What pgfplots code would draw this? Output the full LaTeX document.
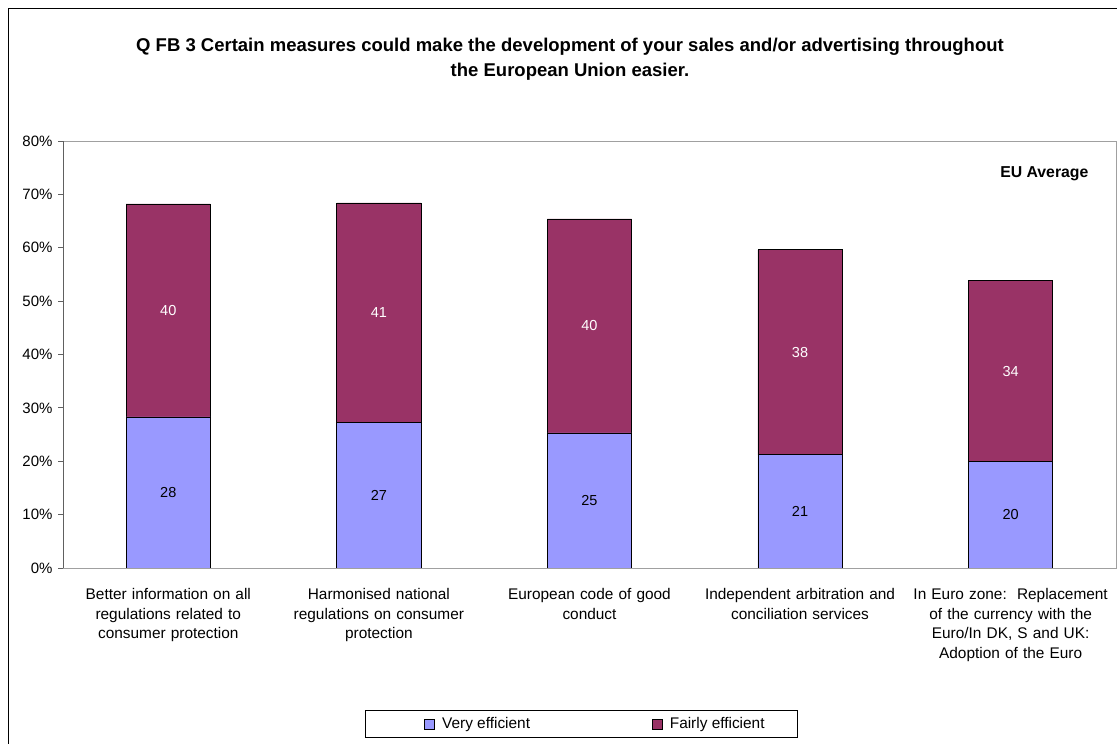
\documentclass[border=0pt]{standalone}
\usepackage{pgfplots}
\pgfplotsset{compat=1.18}
\usepackage{fontspec}
\setmainfont{Liberation Sans}
\definecolor{veryeff}{HTML}{9999FF}
\definecolor{fairlyeff}{HTML}{993366}
\definecolor{axdark}{HTML}{606060}
\definecolor{axlight}{HTML}{A0A0A0}
\begin{document}
\begin{tikzpicture}[x=1pt,y=1pt]
\path[use as bounding box] (0,0) rectangle (1117,744);
% outer frame
\draw[black, line width=1.3pt] (8.5,0) -- (8.5,735.5) -- (1117,735.5);
% title
\node[align=center, font=\fontsize{18.5}{25}\selectfont\bfseries] at (570,684.5)
  {Q FB 3 Certain measures could make the development of your sales and/or advertising throughout\\the European Union easier.};
\begin{axis}[
  at={(63pt,176pt)}, anchor=south west,
  scale only axis, width=1053pt, height=427pt,
  ybar stacked, bar width=0.4,
  xmin=-0.5, xmax=4.5, ymin=0, ymax=80,
  ytick={0,10,...,80},
  yticklabels={0\%,10\%,20\%,30\%,40\%,50\%,60\%,70\%,80\%},
  xtick={0,1,2,3,4},
  xticklabels={{Better information on all\\regulations related to\\consumer protection},
               {Harmonised national\\regulations on consumer\\protection},
               {European code of good\\conduct},
               {Independent arbitration and\\conciliation services},
               {In Euro zone:\ \ Replacement\\of the currency with the\\Euro/In DK, S and UK:\\Adoption of the Euro}},
  major x tick style={draw=none},
  extra x ticks={0.5,1.5,2.5,3.5,4.5},
  extra x tick labels={},
  extra x tick style={major tick length=5pt, tick style={axdark}},
  xtick pos=bottom, ytick pos=left,
  tick align=outside, major tick length=5pt,
  tick style={axdark, line width=0.8pt},
  axis line style={axlight, line width=0.8pt},
  xticklabel style={text width=210pt, align=center, font=\fontsize{15.4}{19.5}\selectfont, yshift=-12pt},
  yticklabel style={font=\fontsize{15}{18}\selectfont, xshift=-2pt},
  legend style={at={(axis description cs:0.4924,-0.3653)}, anchor=center,
    draw=black, line width=0.8pt, legend columns=2, font=\fontsize{15.4}{19.5}\selectfont,
    inner xsep=31pt, inner ysep=5pt,
    /tikz/every even column/.append style={column sep=120pt}},
  legend cell align=left,
]
\addplot[fill=veryeff, draw=black, line width=0.8pt,
  legend image code/.code={\path (-28pt,0pt) (15pt,0pt);
    \draw[fill=veryeff, draw=black, line width=0.6pt] (0pt,-5pt) rectangle (10pt,5pt);}]
  coordinates {(0,28.3) (1,27.35) (2,25.3) (3,21.2) (4,19.9)};
\addlegendentry{Very efficient}
\addplot[fill=fairlyeff, draw=black, line width=0.8pt,
  legend image code/.code={\path (0pt,0pt) (15pt,0pt);
    \draw[fill=fairlyeff, draw=black, line width=0.6pt] (0pt,-5pt) rectangle (10pt,5pt);}]
  coordinates {(0,39.9) (1,41.05) (2,40.1) (3,38.4) (4,33.9)};
\addlegendentry{Fairly efficient}
\draw[axdark, line width=0.9pt] (axis description cs:0,1) -- (axis description cs:0,0) -- (axis description cs:1,0);
\end{axis}
\begin{axis}[
  at={(63pt,176pt)}, anchor=south west,
  scale only axis, width=1053pt, height=427pt,
  xmin=-0.5, xmax=4.5, ymin=0, ymax=80, hide axis,
  every node near coord/.append style={anchor=center, font=\fontsize{14.5}{17}\selectfont},
]
\addplot[draw=none, mark=none, nodes near coords, point meta=explicit symbolic,
  every node near coord/.append style={text=black}]
  coordinates {(0,14.15)[28] (1,13.675)[27] (2,12.65)[25] (3,10.6)[21] (4,9.95)[20]};
\addplot[draw=none, mark=none, nodes near coords, point meta=explicit symbolic,
  every node near coord/.append style={text=white}]
  coordinates {(0,48.25)[40] (1,47.875)[41] (2,45.35)[40] (3,40.4)[38] (4,36.85)[34]};
\node[font=\fontsize{15.8}{18}\selectfont\bfseries] at (axis cs:4.16,73.9) {EU Average};
\end{axis}
\end{tikzpicture}
\end{document}
